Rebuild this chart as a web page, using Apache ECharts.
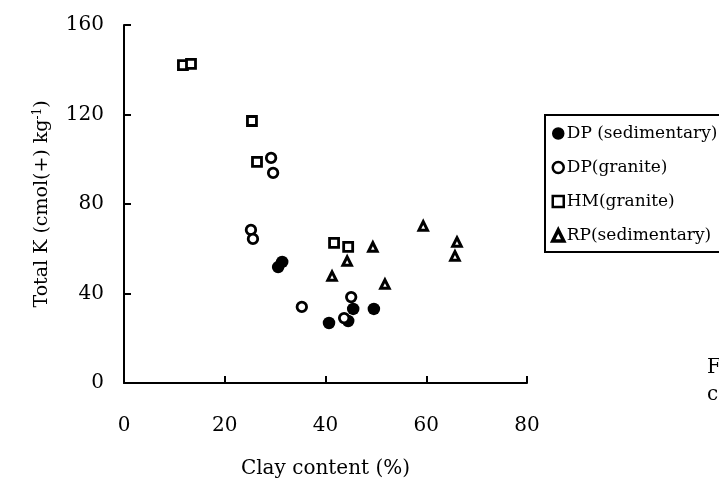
<!DOCTYPE html>
<html>
<head>
<meta charset="utf-8">
<script src="https://cdn.jsdelivr.net/npm/echarts@6/dist/echarts.min.js"></script>
<style>
html,body{margin:0;padding:0;background:#fff;}
#chart{width:719px;height:485px;}
</style>
</head>
<body>
<div id="chart"></div>
<script>
var xTicks = [0, 20, 40, 60, 80];
var yTicks = [0, 40, 80, 120, 160];
var seriesNames = ['DP (sedimentary)', 'DP(granite)', 'HM(granite)', 'RP(sedimentary)'];
var dpSedX = [31.4, 30.6, 45.5, 49.6, 44.5, 40.7];
var dpSedY = [54.1, 51.8, 33.1, 33.1, 27.7, 26.8];
var dpGraX = [29.2, 29.6, 25.2, 25.6, 35.3, 45.1, 43.7];
var dpGraY = [100.6, 93.9, 68.4, 64.4, 34.0, 38.4, 29.0];
var hmX = [11.7, 13.3, 25.4, 26.4, 41.7, 44.5];
var hmY = [142.1, 142.6, 117.1, 98.8, 62.6, 60.8];
var rpX = [49.4, 44.3, 41.3, 51.8, 59.4, 66.1, 65.7];
var rpY = [60.8, 54.5, 47.8, 44.2, 70.2, 63.0, 56.8];

function pairs(xs, ys) { return xs.map(function (x, i) { return [x, ys[i]]; }); }

var FONT = 'DejaVu Serif';
var chart = echarts.init(document.getElementById('chart'), null, {renderer: 'canvas'});
var axisCommon = {
  axisLine: {show: true, onZero: false, lineStyle: {color: '#000', width: 2}},
  axisTick: {show: true, inside: true, length: 7, lineStyle: {color: '#000', width: 2}},
  splitLine: {show: false}
};
var styles = [
  {color: '#000', borderColor: '#000', borderWidth: 0, opacity: 1},
  {color: '#fff', borderColor: '#000', borderWidth: 2.8, opacity: 1},
  {color: '#fff', borderColor: '#000', borderWidth: 2.8, opacity: 1},
  {color: '#fff', borderColor: '#000', borderWidth: 3, opacity: 1}
];
var legendBorder = [1.5, 2.5, 2.5, 3.5];
chart.setOption({
  backgroundColor: '#fff',
  animation: false,
  grid: {left: 124, right: 192, top: 25, bottom: 102, containLabel: false},
  xAxis: Object.assign({}, axisCommon, {
    type: 'value', min: xTicks[0], max: xTicks[xTicks.length - 1], interval: 20,
    name: 'Clay content (%)', nameLocation: 'middle', nameGap: 76,
    nameTextStyle: {color: '#000', fontFamily: FONT, fontSize: 20},
    axisLabel: {color: '#000', fontFamily: FONT, fontSize: 20, margin: 33}
  }),
  yAxis: Object.assign({}, axisCommon, {
    type: 'value', min: yTicks[0], max: yTicks[yTicks.length - 1], interval: 40,
    name: 'Total K (cmol(+) kg{sup|-1})', nameLocation: 'middle', nameGap: 71, nameRotate: 90,
    nameTextStyle: {color: '#000', fontFamily: FONT, fontSize: 19,
      rich: {sup: {fontFamily: FONT, fontSize: 12, color: '#000', padding: [0, 0, 9, 0]}}},
    axisLabel: {color: '#000', fontFamily: FONT, fontSize: 20, margin: 20}
  }),
  legend: {
    orient: 'vertical', left: 545, top: 115,
    data: seriesNames.map(function (n, i) {
      return {name: n, itemStyle: {borderWidth: legendBorder[i], borderColor: '#000'}};
    }),
    itemWidth: 11, itemHeight: 11, itemGap: 17,
    padding: [10, 40, 8, 6],
    borderColor: '#000', borderWidth: 2,
    textStyle: {color: '#000', fontFamily: FONT, fontSize: 17, padding: [0, 0, 0, -2]}
  },
  graphic: [
    {type: 'text', left: 707, top: 358, style: {text: 'F', font: '20px "DejaVu Serif"', fill: '#000'}},
    {type: 'text', left: 707, top: 385, style: {text: 'c', font: '20px "DejaVu Serif"', fill: '#000'}}
  ],
  series: [
    {name: seriesNames[0], type: 'scatter', data: pairs(dpSedX, dpSedY), symbol: 'circle', symbolSize: 12.5,
      itemStyle: styles[0]},
    {name: seriesNames[1], type: 'scatter', data: pairs(dpGraX, dpGraY), symbol: 'circle', symbolSize: 9.5,
      itemStyle: styles[1]},
    {name: seriesNames[2], type: 'scatter', data: pairs(hmX, hmY), symbol: 'rect', symbolSize: 9,
      itemStyle: styles[2]},
    {name: seriesNames[3], type: 'scatter', data: pairs(rpX, rpY), symbol: 'triangle', symbolSize: 8.5,
      itemStyle: styles[3]}
  ]
});
</script>
</body>
</html>
